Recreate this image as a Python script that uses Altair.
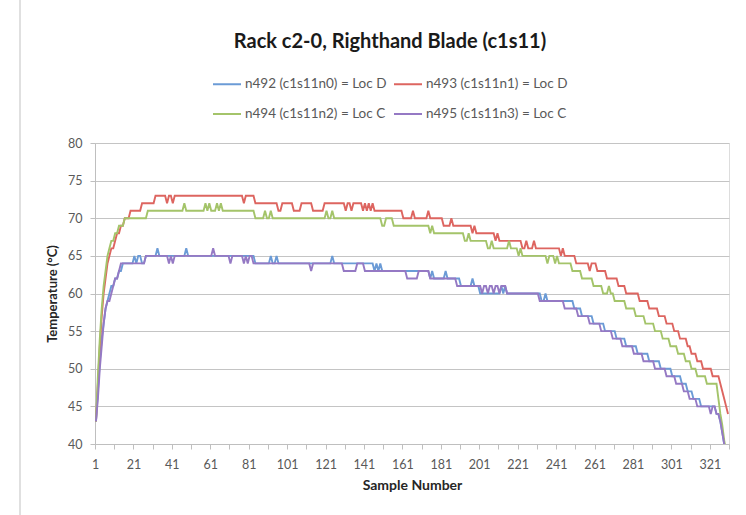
import altair as alt
import pandas as pd

N_SAMPLES = 330

series_names = [
    "n492 (c1s11n0) = Loc D",
    "n493 (c1s11n1) = Loc D",
    "n494 (c1s11n2) = Loc C",
    "n495 (c1s11n3) = Loc C",
]
series_colors = ["#6b9bd6", "#dd6560", "#a4c46a", "#9579c4"]

# (first sample, temperature) -- value holds until the next listed sample
blue_steps = [(1,43),(2,47),(3,51),(4,54),(5,56),(6,58),(7,59),(8,60),(9,61),(11,62),(13,63),(15,64),
    (21,65),(22,64),(23,65),(25,64),(27,65),(33,66),(34,65),(48,66),(49,65),(84,64),(92,65),(93,64),
    (95,65),(96,64),(124,65),(125,64),(146,63),(147,64),(148,63),(149,64),(150,63),(175,62),(176,63),
    (177,62),(183,63),(184,62),(191,61),(197,62),(198,61),(201,60),(212,61),(213,60),(214,61),(215,60),
    (233,59),(235,60),(236,59),(250,58),(254,57),(260,56),(266,55),(272,54),(277,53),(283,52),(289,51),
    (295,50),(301,49),(306,48),(309,47),(312,46),(316,45),(324,44),(326,43),(327,41.5),(328,40),
    (329,38.5),(330,37)]

red_steps = [(1,43),(2,48),(3,53),(4,57),(5,60),(6,62),(7,64),(8,65),(9,66),(11,67),(12,68),(14,69),
    (16,70),(19,71),(25,72),(32,73),(38,72),(39,73),(41,72),(42,73),(78,72),(79,73),(84,72),(96,71),
    (98,72),(104,71),(108,72),(114,71),(120,72),(131,71),(132,72),(134,71),(135,72),(140,71),(141,72),
    (142,71),(143,72),(144,71),(145,72),(146,71),(161,70),(166,71),(167,70),(174,71),(175,70),(182,69),
    (186,70),(187,69),(197,68),(198,69),(199,68),(209,67),(210,68),(211,67),(223,66),(225,67),(226,66),
    (229,67),(230,66),(243,65),(244,66),(245,65),(251,64),(258,63),(259,64),(262,63),(267,62),(273,61),
    (277,60),(284,59),(289,58),(294,57),(298,56),(302,55),(305,54),(309,53),(311,52),(314,51),(317,50),
    (322,49),(326,48),(327,47),(328,46),(329,45),(330,44)]

green_steps = [(1,43),(2,49),(3,54),(4,58),(5,61),(6,63),(7,65),(8,66),(9,67),(11,68),(13,69),(16,70),
    (28,71),(47,72),(48,71),(58,72),(59,71),(60,72),(61,71),(64,72),(65,71),(66,72),(67,71),(84,70),
    (89,71),(90,70),(92,71),(93,70),(121,71),(122,70),(124,71),(125,70),(150,69),(152,70),(156,69),
    (175,68),(176,69),(177,68),(193,67),(195,68),(196,67),(205,66),(207,67),(208,66),(216,67),(217,66),
    (221,65),(222,66),(223,65),(236,64),(237,65),(240,64),(241,65),(242,64),(249,63),(254,62),(260,61),
    (265,60),(268,61),(269,60),(271,59),(277,58),(282,57),(287,56),(292,55),(296,54),(300,53),(304,52),
    (308,51),(311,50),(314,49),(319,48),(325,46),(326,44),(327,42.5),(328,40.5),(329,39),(330,37.5)]

purple_steps = [(1,43),(2,46),(3,50),(4,53),(5,56),(6,58),(7,59),(9,60),(10,61),(11,62),(13,63),(14,64),
    (27,65),(39,64),(40,65),(41,64),(42,65),(62,66),(63,65),(71,64),(72,65),(78,64),(79,65),(80,64),
    (81,65),(83,64),(113,63),(114,64),(130,63),(137,64),(141,63),(163,62),(169,63),(175,62),(189,61),
    (202,60),(203,61),(205,60),(206,61),(208,60),(209,61),(211,60),(212,61),(215,60),(232,59),(245,58),
    (252,57),(258,56),(264,55),(270,54),(275,53),(281,52),(286,51),(292,50),(298,49),(303,48),(307,47),
    (310,46),(314,45),(321,44),(322,45),(324,44),(326,43),(327,41.5),(328,40),(329,38.5),(330,37)]

x_label_values = list(range(1, 322, 20))
y_tick_values = list(range(40, 81, 5))


def expand(steps, n):
    vals = []
    for i, (start, temp) in enumerate(steps):
        end = steps[i + 1][0] if i + 1 < len(steps) else n + 1
        vals.extend([temp] * (end - start))
    return vals


rows = []
for name, steps in zip(series_names, [blue_steps, red_steps, green_steps, purple_steps]):
    for i, t in enumerate(expand(steps, N_SAMPLES)):
        rows.append({"sample": i + 1, "temp": t, "series": name})
df = pd.DataFrame(rows)

# category boundaries for tick marks (every 10 samples), labels at 1, 21, 41 ...
x_tick_values = [v - 0.5 for v in range(1, N_SAMPLES + 2, 10)]

FONT = "Lato"

lines = alt.Chart(df).mark_line(strokeWidth=1.9, clip=True).encode(
    x=alt.X("sample:Q",
            scale=alt.Scale(domain=[0.5, N_SAMPLES + 0.5], nice=False, zero=False),
            axis=alt.Axis(values=x_tick_values,
                          labelExpr="((datum.value - 0.5) % 20 == 0) ? format(datum.value + 0.5, 'd') : ''",
                          grid=False, tickSize=5, tickColor="#bfbfbf", domainColor="#bfbfbf",
                          labelFontSize=12.5, labelColor="#595959", labelFont=FONT,
                          labelPadding=9, labelFlush=False, labelOverlap=False,
                          title="Sample Number", titleFont=FONT, titleFontSize=14,
                          titleFontWeight="bold", titleColor="#262626", titlePadding=8)),
    y=alt.Y("temp:Q",
            scale=alt.Scale(domain=[40, 80], nice=False, zero=False),
            axis=alt.Axis(values=y_tick_values, grid=True, gridColor="#c4c4c4", gridWidth=1.2,
                          tickSize=5, tickColor="#bfbfbf", domainColor="#bfbfbf",
                          labelFontSize=12.5, labelColor="#595959", labelFont=FONT, labelPadding=8,
                          title="Temperature (°C)", titleFont=FONT, titleFontSize=13,
                          titleFontWeight="bold", titleColor="#262626", titlePadding=8)),
    color=alt.Color("series:N",
                    scale=alt.Scale(domain=series_names, range=series_colors),
                    legend=alt.Legend(orient="none", legendX=117, legendY=-74, columns=2,
                                      direction="horizontal",
                                      title=None, symbolType="stroke", symbolSize=784,
                                      symbolStrokeWidth=2, labelFontSize=13.5, labelFont=FONT,
                                      labelColor="#595959", labelLimit=400, columnPadding=3,
                                      rowPadding=8, labelOffset=3)),
    order=alt.Order("sample:Q"),
)

frame = alt.Chart(pd.DataFrame({"k": [0]})).mark_rule(color="#d6d6d6", strokeWidth=1.5, clip=False).encode(
    x=alt.value(-75), y=alt.value(-143), y2=alt.value(372)
)

chart = alt.layer(frame, lines).properties(
    width=634, height=301,
    autosize=alt.AutoSizeParams(type="none"),
    padding={"left": 95, "top": 143, "right": 17, "bottom": 71},
    title=alt.TitleParams("Rack c2-0, Righthand Blade (c1s11)", font=FONT, fontSize=20,
                          fontWeight="bold", color="#1a1a1a", anchor="middle", dx=-22,
                          offset=0, dy=53),
).configure_view(stroke=None).configure(background="white")

chart.save("out.html", embed_options={"renderer": "svg", "actions": False})
